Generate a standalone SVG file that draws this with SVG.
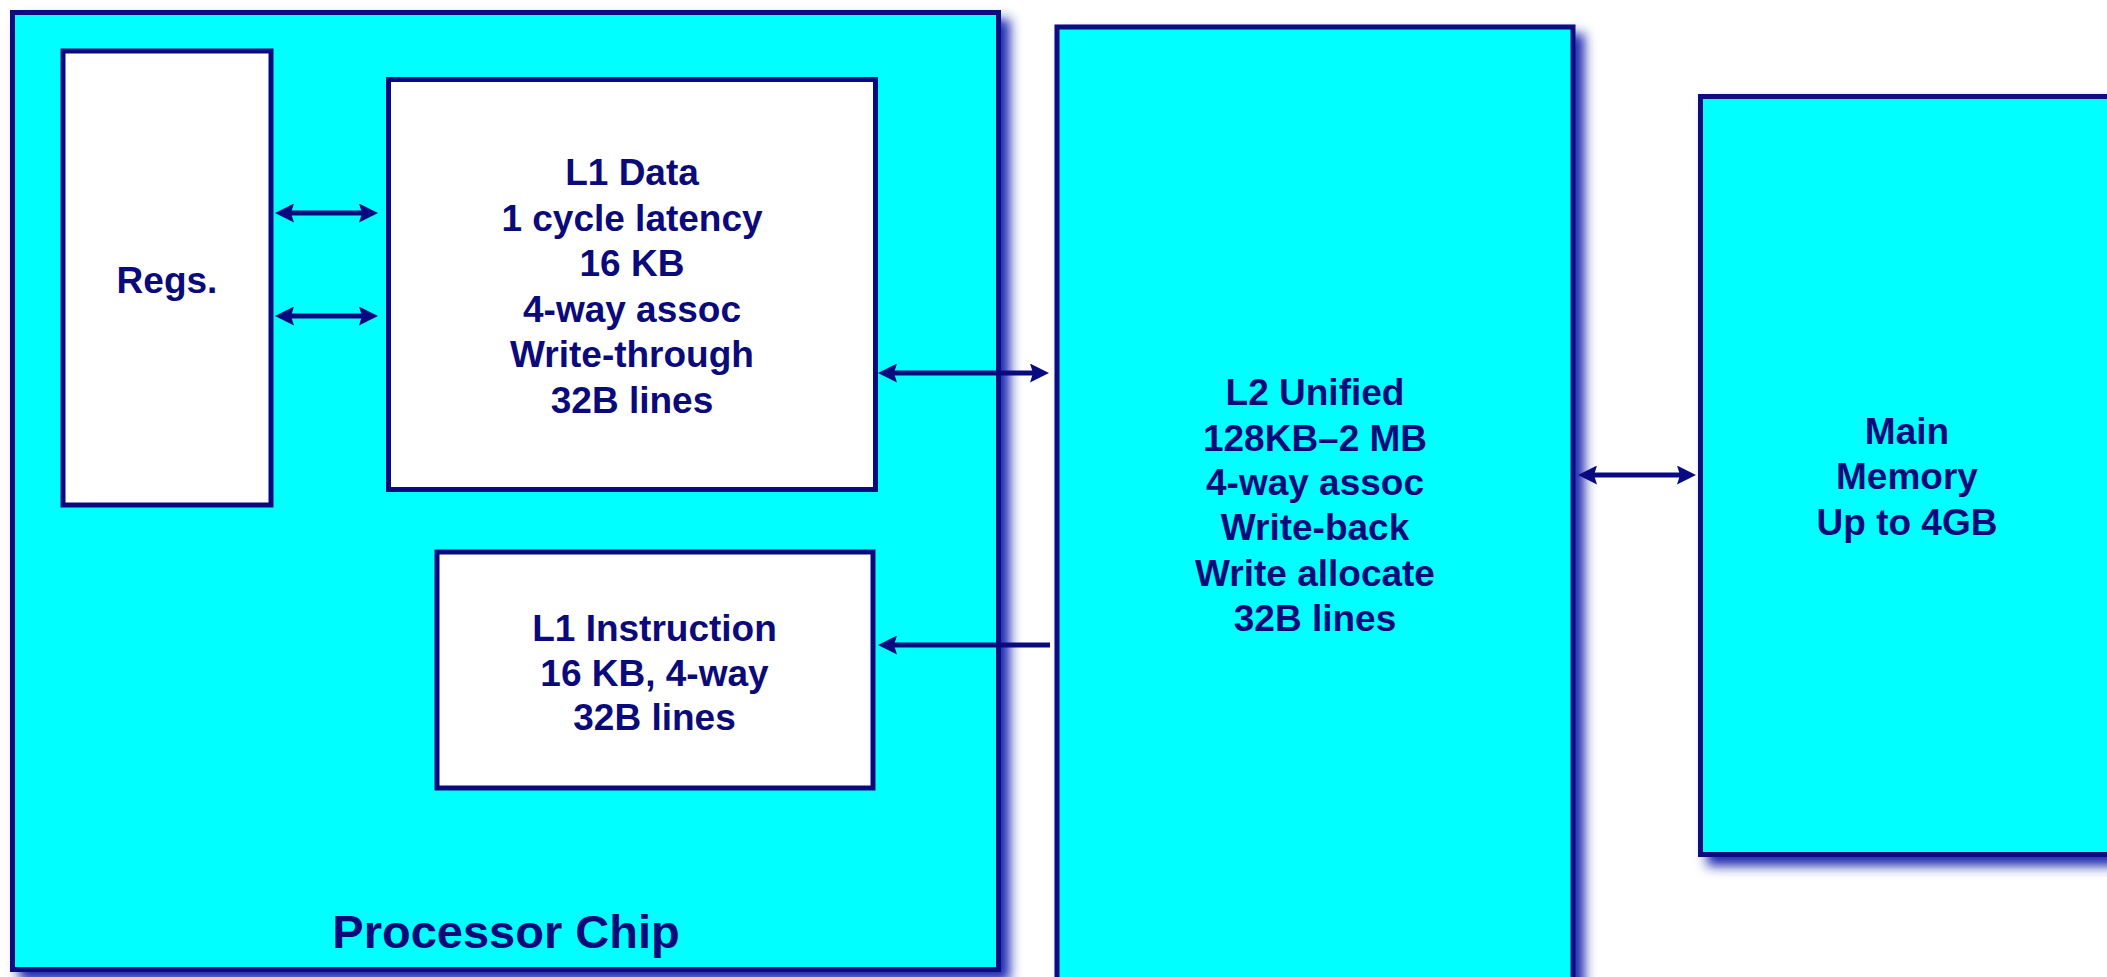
<svg xmlns="http://www.w3.org/2000/svg" width="2107" height="977" viewBox="0 0 2107 977">
  <style>
    .outer { fill: #00FFFF; stroke: #0A0A80; stroke-width: 5; filter: url(#shadow); }
    .inner { fill: #FFFFFF; stroke: #0A0A80; stroke-width: 5; }
    .lbl { font-family: "Liberation Sans", Arial, sans-serif; font-weight: bold; font-size: 37px; fill: #0A0A7A; text-anchor: middle; }
    .big { font-size: 47px; }
    .conn { stroke: #0A0A80; stroke-width: 5; fill: none; }
  </style>
  <defs>
    <filter id="shadow" x="-10%" y="-10%" width="130%" height="130%">
      <feDropShadow dx="9" dy="9" stdDeviation="6" flood-color="#1C2CB0" flood-opacity="1"/>
    </filter>
    <marker id="ah" viewBox="0 0 19 19" refX="13" refY="9.5" markerWidth="19" markerHeight="19" markerUnits="userSpaceOnUse" orient="auto-start-reverse">
      <path d="M0,0 L19,9.5 L0,19 L3,9.5 z" fill="#0A0A80"/>
    </marker>
  </defs>
  <rect width="2107" height="977" fill="#FFFFFF"/>

  <g id="processor-chip">
    <rect class="outer" x="12.5" y="12.5" width="986" height="957"/>
    <text class="lbl big" x="506" y="948">Processor Chip</text>
  </g>

  <g id="l2-unified">
    <rect class="outer" x="1057" y="27" width="516" height="980"/>
    <text class="lbl" x="1315" y="405">L2 Unified</text>
    <text class="lbl" x="1315" y="450.5">128KB–2 MB</text>
    <text class="lbl" x="1315" y="495">4-way assoc</text>
    <text class="lbl" x="1315" y="540">Write-back</text>
    <text class="lbl" x="1315" y="585.5">Write allocate</text>
    <text class="lbl" x="1315" y="631">32B lines</text>
  </g>

  <g id="main-memory">
    <rect class="outer" x="1700.5" y="96.5" width="414" height="758"/>
    <text class="lbl" x="1907" y="443.5">Main</text>
    <text class="lbl" x="1907" y="489">Memory</text>
    <text class="lbl" x="1907" y="534.5">Up to 4GB</text>
  </g>

  <g id="regs">
    <rect class="inner" x="63" y="51" width="208" height="454"/>
    <text class="lbl" x="167" y="293">Regs.</text>
  </g>

  <g id="l1-data">
    <rect class="inner" x="388.5" y="79.5" width="487" height="410"/>
    <text class="lbl" x="632" y="185">L1 Data</text>
    <text class="lbl" x="632" y="230.5">1 cycle latency</text>
    <text class="lbl" x="632" y="276">16 KB</text>
    <text class="lbl" x="632" y="321.5">4-way assoc</text>
    <text class="lbl" x="632" y="367">Write-through</text>
    <text class="lbl" x="632" y="412.5">32B lines</text>
  </g>

  <g id="l1-instruction">
    <rect class="inner" x="437" y="552" width="436" height="236"/>
    <text class="lbl" x="654.5" y="641">L1 Instruction</text>
    <text class="lbl" x="654.5" y="685.5">16 KB, 4-way</text>
    <text class="lbl" x="654.5" y="730">32B lines</text>
  </g>

  <g id="connectors">
    <line class="conn" x1="281" y1="213" x2="372" y2="213" marker-start="url(#ah)" marker-end="url(#ah)"/>
    <line class="conn" x1="281" y1="316" x2="372" y2="316" marker-start="url(#ah)" marker-end="url(#ah)"/>
    <line class="conn" x1="884" y1="373" x2="1043" y2="373" marker-start="url(#ah)" marker-end="url(#ah)"/>
    <line class="conn" x1="1050" y1="645" x2="884" y2="645" marker-end="url(#ah)"/>
    <line class="conn" x1="1584" y1="475" x2="1690" y2="475" marker-start="url(#ah)" marker-end="url(#ah)"/>
  </g>
</svg>
